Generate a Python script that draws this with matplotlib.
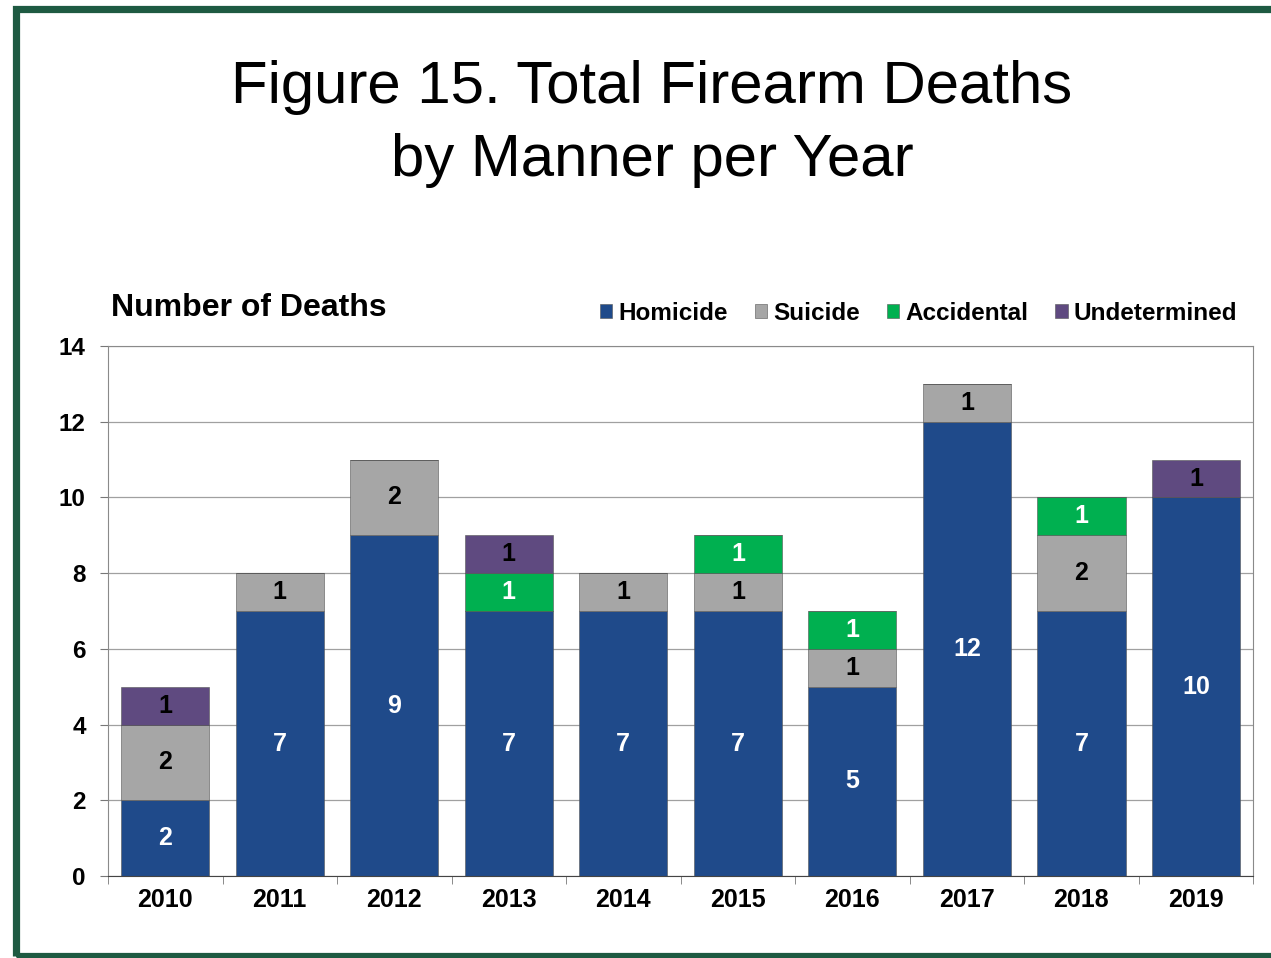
"""Figure 15: total firearm deaths by manner per year (stacked bars)."""
import matplotlib
matplotlib.use('Agg')
import matplotlib.pyplot as plt
from matplotlib.patches import Rectangle, Patch
import numpy as np

plt.rcParams['font.family'] = ['Liberation Sans', 'DejaVu Sans']

years = ['2010', '2011', '2012', '2013', '2014', '2015', '2016', '2017', '2018', '2019']
homicide = [2, 7, 9, 7, 7, 7, 5, 12, 7, 10]
suicide = [2, 1, 2, 0, 1, 1, 1, 1, 2, 0]
accidental = [0, 0, 0, 1, 0, 1, 1, 0, 1, 0]
undetermined = [1, 0, 0, 1, 0, 0, 0, 0, 0, 1]

series = [
    ('Homicide', homicide, '#1F4A8A', 'white'),
    ('Suicide', suicide, '#A6A6A6', 'black'),
    ('Accidental', accidental, '#00B050', 'white'),
    ('Undetermined', undetermined, '#5F4A80', 'black'),
]

fig = plt.figure(figsize=(12.71, 9.58), dpi=100)
ax = fig.add_axes([0.085, 0.0856, 0.901, 0.5532])

x = np.arange(len(years))
bottom = np.zeros(len(years))
for name, values, color, txt_color in series:
    vals = np.array(values, dtype=float)
    ax.bar(x, vals, 0.77, bottom=bottom, color=color, edgecolor='#555555',
           linewidth=0.4, zorder=2, label=name)
    for xi, b, v in zip(x, bottom, vals):
        if v > 0:
            ax.text(xi, b + v / 2, f'{int(v)}', ha='center', va='center',
                    color=txt_color, fontsize=18, fontweight='bold', zorder=3)
    bottom += vals

ax.set_xlim(-0.5, len(years) - 0.5)
ax.set_ylim(0, 14)
ax.set_yticks(range(0, 15, 2))
ax.set_xticks(x)
ax.set_xticklabels(years)
ax.set_xticks(np.arange(-0.5, len(years), 1), minor=True)
ax.tick_params(axis='x', which='major', length=0, pad=9, labelsize=18)
ax.tick_params(axis='x', which='minor', length=6, color='#777777')
ax.tick_params(axis='y', length=6, color='#777777', labelsize=17.5, pad=10)
for lbl in ax.get_xticklabels() + ax.get_yticklabels():
    lbl.set_fontweight('bold')
ax.grid(axis='y', color='#A0A0A0', linewidth=0.9, zorder=0)
ax.set_axisbelow(True)
for side in ['left', 'top', 'right']:
    ax.spines[side].set_color('#8A8A8A')
ax.spines['bottom'].set_color('#444444')

fig.text(0.513, 0.909, 'Figure 15. Total Firearm Deaths', ha='center', va='center',
         fontsize=43.2)
fig.text(0.513, 0.832, 'by Manner per Year', ha='center', va='center', fontsize=43.2)
fig.text(0.087, 0.678, 'Number of Deaths', ha='left', va='center', fontsize=23,
         fontweight='bold')

handles = [Patch(facecolor=c, edgecolor='#555555', linewidth=0.4) for _, _, c, _ in series]
fig.legend(handles, [s[0] for s in series], loc='center right',
           bbox_to_anchor=(0.981, 0.673), ncol=4, frameon=False,
           prop={'weight': 'bold', 'size': 17.5}, handlelength=0.5, handleheight=0.5,
           handletextpad=0.25, columnspacing=1.12, borderaxespad=0)

# dark green frame around the page
fig.patches.append(Rectangle((15.5 / 1271, 2.5 / 958), 1.2, 1 - 11 / 958,
                             transform=fig.transFigure, fill=False,
                             edgecolor='#1E5A42', linewidth=5.2))

fig.savefig('out.png', dpi=100)
